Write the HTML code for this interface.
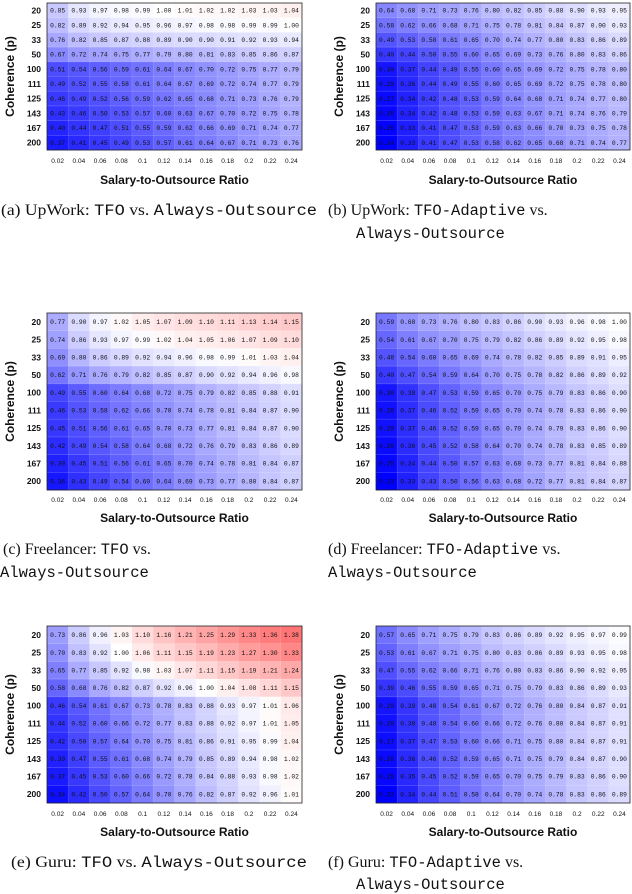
<!DOCTYPE html>
<html><head><meta charset="utf-8">
<style>
html,body{margin:0;padding:0;background:#fff;}
svg{display:block;}
.cell{font-family:"Liberation Mono",monospace;font-size:6.3px;fill:#111;}
.yt{font-family:"Liberation Sans",sans-serif;font-weight:bold;font-size:8.5px;fill:#111;}
.xt{font-family:"Liberation Sans",sans-serif;font-size:6.5px;fill:#111;}
.at{font-family:"Liberation Sans",sans-serif;font-weight:bold;font-size:12px;fill:#111;}
.cap{font-family:"Liberation Serif",serif;font-size:16px;fill:#111;}
.mono{font-family:"Liberation Mono",monospace;font-size:15.5px;}
</style></head>
<body>
<svg id="fig" width="632" height="894" viewBox="0 0 632 894" xmlns="http://www.w3.org/2000/svg">
<g id="caps">
<text class="cap" x="1" y="215" textLength="316" lengthAdjust="spacingAndGlyphs">(a) UpWork: <tspan class="mono">TFO</tspan> vs. <tspan class="mono">Always-Outsource</tspan></text>
<text class="cap" x="328" y="215">(b) UpWork: <tspan class="mono">TFO-Adaptive</tspan> vs.</text>
<text class="cap" x="356" y="238"><tspan class="mono">Always-Outsource</tspan></text>
<text class="cap" x="3" y="554">(c) Freelancer: <tspan class="mono">TFO</tspan> vs.</text>
<text class="cap" x="0" y="577"><tspan class="mono">Always-Outsource</tspan></text>
<text class="cap" x="328" y="554">(d) Freelancer: <tspan class="mono">TFO-Adaptive</tspan> vs.</text>
<text class="cap" x="328" y="577"><tspan class="mono">Always-Outsource</tspan></text>
<text class="cap" x="11" y="867" textLength="296" lengthAdjust="spacingAndGlyphs">(e) Guru: <tspan class="mono">TFO</tspan> vs. <tspan class="mono">Always-Outsource</tspan></text>
<text class="cap" x="328" y="867">(f) Guru: <tspan class="mono">TFO-Adaptive</tspan> vs.</text>
<text class="cap" x="356" y="889"><tspan class="mono">Always-Outsource</tspan></text>
</g>
</svg>
<script>
const categoriesX = ["0.02","0.04","0.06","0.08","0.1","0.12","0.14","0.16","0.18","0.2","0.22","0.24"];
const categoriesY = ["20","25","33","50","100","111","125","143","167","200"];
const valuesA = [
[0.85,0.93,0.97,0.98,0.99,1.00,1.01,1.02,1.02,1.03,1.03,1.04],
[0.82,0.89,0.92,0.94,0.95,0.96,0.97,0.98,0.98,0.99,0.99,1.00],
[0.76,0.82,0.85,0.87,0.88,0.89,0.90,0.90,0.91,0.92,0.93,0.94],
[0.67,0.72,0.74,0.75,0.77,0.79,0.80,0.81,0.83,0.85,0.86,0.87],
[0.51,0.54,0.56,0.59,0.61,0.64,0.67,0.70,0.72,0.75,0.77,0.79],
[0.49,0.52,0.55,0.58,0.61,0.64,0.67,0.69,0.72,0.74,0.77,0.79],
[0.46,0.49,0.52,0.56,0.59,0.62,0.65,0.68,0.71,0.73,0.76,0.79],
[0.43,0.46,0.50,0.53,0.57,0.60,0.63,0.67,0.70,0.72,0.75,0.78],
[0.40,0.44,0.47,0.51,0.55,0.59,0.62,0.66,0.69,0.71,0.74,0.77],
[0.37,0.41,0.45,0.49,0.53,0.57,0.61,0.64,0.67,0.71,0.73,0.76]];
const valuesB = [
[0.64,0.68,0.71,0.73,0.76,0.80,0.82,0.85,0.88,0.90,0.93,0.95],
[0.58,0.62,0.66,0.68,0.71,0.75,0.78,0.81,0.84,0.87,0.90,0.93],
[0.49,0.53,0.58,0.61,0.65,0.70,0.74,0.77,0.80,0.83,0.86,0.89],
[0.40,0.44,0.50,0.55,0.60,0.65,0.69,0.73,0.76,0.80,0.83,0.86],
[0.30,0.37,0.44,0.49,0.55,0.60,0.65,0.69,0.72,0.75,0.78,0.80],
[0.29,0.36,0.44,0.49,0.55,0.60,0.65,0.69,0.72,0.75,0.78,0.80],
[0.27,0.34,0.42,0.48,0.53,0.59,0.64,0.68,0.71,0.74,0.77,0.80],
[0.26,0.34,0.42,0.48,0.53,0.59,0.63,0.67,0.71,0.74,0.76,0.79],
[0.25,0.33,0.41,0.47,0.53,0.59,0.63,0.66,0.70,0.73,0.75,0.78],
[0.24,0.33,0.41,0.47,0.53,0.58,0.62,0.65,0.68,0.71,0.74,0.77]];
const valuesC = [
[0.77,0.90,0.97,1.02,1.05,1.07,1.09,1.10,1.11,1.13,1.14,1.15],
[0.74,0.86,0.93,0.97,0.99,1.02,1.04,1.05,1.06,1.07,1.09,1.10],
[0.69,0.80,0.86,0.89,0.92,0.94,0.96,0.98,0.99,1.01,1.03,1.04],
[0.62,0.71,0.76,0.79,0.82,0.85,0.87,0.90,0.92,0.94,0.96,0.98],
[0.49,0.55,0.60,0.64,0.68,0.72,0.75,0.79,0.82,0.85,0.88,0.91],
[0.46,0.53,0.58,0.62,0.66,0.70,0.74,0.78,0.81,0.84,0.87,0.90],
[0.45,0.51,0.56,0.61,0.65,0.70,0.73,0.77,0.81,0.84,0.87,0.90],
[0.42,0.49,0.54,0.58,0.64,0.68,0.72,0.76,0.79,0.83,0.86,0.89],
[0.39,0.45,0.51,0.56,0.61,0.65,0.70,0.74,0.78,0.81,0.84,0.87],
[0.36,0.43,0.49,0.54,0.60,0.64,0.69,0.73,0.77,0.80,0.84,0.87]];
const valuesD = [
[0.59,0.68,0.73,0.76,0.80,0.83,0.86,0.90,0.93,0.96,0.98,1.00],
[0.54,0.61,0.67,0.70,0.75,0.79,0.82,0.86,0.89,0.92,0.95,0.98],
[0.48,0.54,0.60,0.65,0.69,0.74,0.78,0.82,0.85,0.89,0.91,0.95],
[0.40,0.47,0.54,0.59,0.64,0.70,0.75,0.78,0.82,0.86,0.89,0.92],
[0.30,0.38,0.47,0.53,0.59,0.65,0.70,0.75,0.79,0.83,0.86,0.90],
[0.28,0.37,0.46,0.52,0.59,0.65,0.70,0.74,0.78,0.83,0.86,0.90],
[0.28,0.37,0.46,0.52,0.59,0.65,0.70,0.74,0.79,0.83,0.86,0.90],
[0.26,0.36,0.45,0.52,0.58,0.64,0.70,0.74,0.78,0.83,0.85,0.89],
[0.25,0.34,0.44,0.50,0.57,0.63,0.68,0.73,0.77,0.81,0.84,0.88],
[0.23,0.33,0.43,0.50,0.56,0.63,0.68,0.72,0.77,0.81,0.84,0.87]];
const valuesE = [
[0.73,0.86,0.96,1.03,1.10,1.16,1.21,1.25,1.29,1.33,1.36,1.38],
[0.70,0.83,0.92,1.00,1.06,1.11,1.15,1.19,1.23,1.27,1.30,1.33],
[0.65,0.77,0.85,0.92,0.98,1.03,1.07,1.11,1.15,1.19,1.21,1.24],
[0.58,0.68,0.76,0.82,0.87,0.92,0.96,1.00,1.04,1.08,1.11,1.15],
[0.46,0.54,0.61,0.67,0.73,0.78,0.83,0.88,0.93,0.97,1.01,1.06],
[0.44,0.52,0.60,0.66,0.72,0.77,0.83,0.88,0.92,0.97,1.01,1.05],
[0.42,0.50,0.57,0.64,0.70,0.75,0.81,0.86,0.91,0.95,0.99,1.04],
[0.39,0.47,0.55,0.61,0.68,0.74,0.79,0.85,0.89,0.94,0.98,1.02],
[0.37,0.45,0.53,0.60,0.66,0.72,0.78,0.84,0.88,0.93,0.98,1.02],
[0.34,0.42,0.50,0.57,0.64,0.70,0.76,0.82,0.87,0.92,0.96,1.01]];
const valuesF = [
[0.57,0.65,0.71,0.75,0.79,0.83,0.86,0.89,0.92,0.95,0.97,0.99],
[0.53,0.61,0.67,0.71,0.75,0.80,0.83,0.86,0.89,0.93,0.95,0.98],
[0.47,0.55,0.62,0.66,0.71,0.76,0.80,0.83,0.86,0.90,0.92,0.95],
[0.39,0.46,0.55,0.59,0.65,0.71,0.75,0.79,0.83,0.86,0.89,0.93],
[0.29,0.39,0.48,0.54,0.61,0.67,0.72,0.76,0.80,0.84,0.87,0.91],
[0.28,0.38,0.48,0.54,0.60,0.66,0.72,0.76,0.80,0.84,0.87,0.91],
[0.27,0.37,0.47,0.53,0.60,0.66,0.71,0.75,0.80,0.84,0.87,0.91],
[0.26,0.36,0.46,0.52,0.59,0.65,0.71,0.75,0.79,0.84,0.87,0.90],
[0.25,0.35,0.45,0.52,0.59,0.65,0.70,0.75,0.79,0.83,0.86,0.90],
[0.23,0.34,0.44,0.51,0.58,0.64,0.70,0.74,0.78,0.83,0.86,0.89]];

const NS = "http://www.w3.org/2000/svg";
const fig = document.getElementById("fig");
function mk(tag, attrs, parent){const e=document.createElementNS(NS,tag);for(const k in attrs)e.setAttribute(k,attrs[k]);parent.appendChild(e);return e;}

function color(v, vmin){
  const vmax = 2 - vmin;
  let r,g,b;
  if (v <= 1){ const t = Math.max(0,Math.min(1,(v - vmin)/(1 - vmin))); r = g = Math.round(255*t); b = 255; }
  else { const t = Math.max(0,Math.min(1,(v - 1)/(vmax - 1))); r = 255; g = b = Math.round(255*(1-t)); }
  return `rgb(${r},${g},${b})`;
}

function drawPanel(id, vals, x0, x1, y0, y1, tickY, titleY){
  const g = mk("g", {}, fig);
  
  
  const nx = categoriesX.length, ny = categoriesY.length;
  const cw = (x1 - x0)/nx, ch = (y1 - y0)/ny;
  const xs = i => x0 + i*cw;
  const ys = j => y0 + j*ch;
  let vmin = Infinity;
  vals.forEach(r => r.forEach(v => { if (v < vmin) vmin = v; }));
  vmin = Math.min(vmin, 0.3);
  vals.forEach((row, j) => row.forEach((v, i) => {
    const rc = mk("rect", {x: xs(i), y: ys(j), width: cw+0.3, height: ch+0.3, fill: color(v, vmin)}, g);
    
    
    const t = mk("text", {x: xs(i)+cw/2, y: ys(j)+ch/2+2.2, "text-anchor": "middle", class: "cell"}, g);
    
    
    t.textContent = v.toFixed(2);
  }));
  for (let j=1;j<ny;j++){ mk("line",{x1:x0,x2:x1,y1:ys(j),y2:ys(j),stroke:"rgba(255,255,255,0.25)","stroke-width":0.6},g); }
  for (let i=1;i<nx;i++){ mk("line",{x1:xs(i),x2:xs(i),y1:y0,y2:y1,stroke:"rgba(255,255,255,0.2)","stroke-width":0.6},g); }
  const fr = mk("rect",{x:x0,y:y0,width:x1-x0,height:y1-y0,fill:"none",stroke:"#222","stroke-width":0.8},g);
  
  
  categoriesY.forEach((c,j)=>{
    const t = mk("text",{x:x0-6,y:ys(j)+ch/2+3,"text-anchor":"end",class:"yt"},g);
    
    
    t.textContent = c;
  });
  categoriesX.forEach((c,i)=>{
    const t = mk("text",{x:xs(i)+cw/2,y:tickY+2,"text-anchor":"middle",class:"xt"},g);
    
    
    t.textContent = c;
  });
  const xt = mk("text",{x:(x0+x1)/2,y:titleY+4,"text-anchor":"middle",class:"at"},g);
  
  
  xt.textContent = "Salary-to-Outsource Ratio";
  const cy = (y0+y1)/2, cx = x0-33;
  const yt = mk("text",{x:cx,y:cy,"text-anchor":"middle",class:"at",transform:`rotate(-90 ${cx} ${cy})`},g);
  
  
  yt.textContent = "Coherence (p)";
}
drawPanel("a", valuesA, 47, 302, 3, 150, 161, 180);
drawPanel("b", valuesB, 376, 630, 3, 150, 161, 180);
drawPanel("c", valuesC, 47, 302, 313, 490, 500, 518);
drawPanel("d", valuesD, 376, 630, 313, 490, 500, 518);
drawPanel("e", valuesE, 47, 302, 626, 803, 814, 832);
drawPanel("f", valuesF, 376, 630, 626, 803, 814, 832);
</script>
</body></html>
